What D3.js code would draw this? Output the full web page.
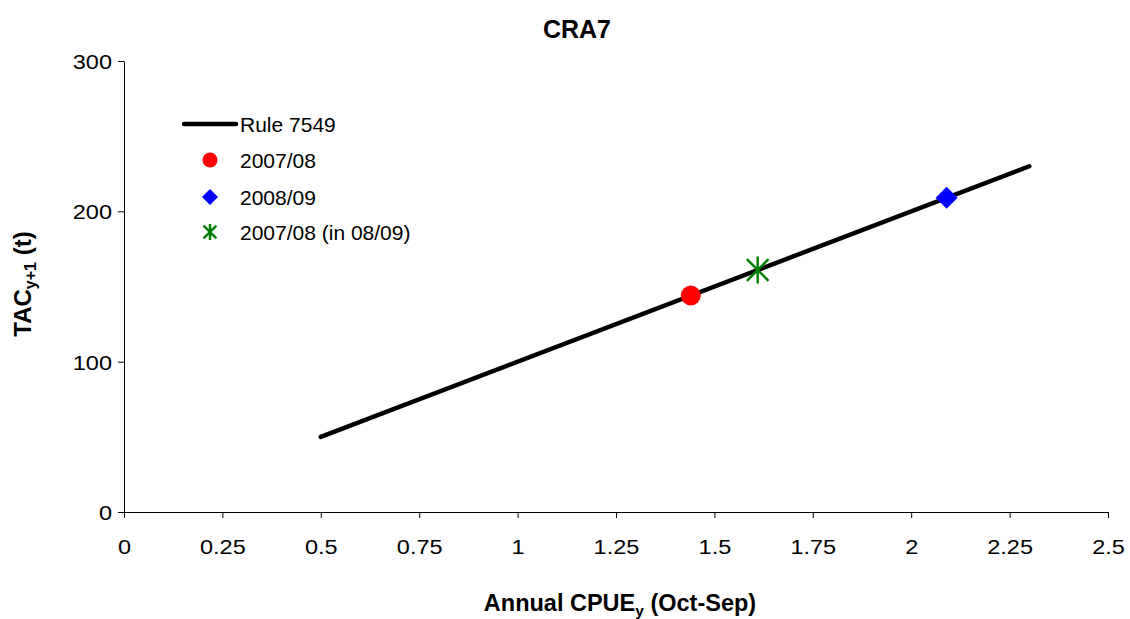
<!DOCTYPE html>
<html><head><meta charset="utf-8">
<script src="https://cdn.jsdelivr.net/npm/d3@7"></script>
<style>body{margin:0;background:#fff;}svg{font-family:Arial,"Liberation Sans",sans-serif;}</style>
</head><body><svg id="c" width="1130" height="619"></svg>
<script>
const ruleX = [0.5, 2.3];
const ruleY = [50, 230];
const pts0708 = [{x:1.44, y:144}];
const pts0809 = [{x:2.09, y:209}];
const pts0708in = [{x:1.61, y:161}];
const xTicks = [0,0.25,0.5,0.75,1,1.25,1.5,1.75,2,2.25,2.5];
const yTicks = [0,100,200,300];
const legendLabels = ["Rule 7549","2007/08","2008/09","2007/08 (in 08/09)"];

const FF = "Arial, 'Liberation Sans', sans-serif";
const svg = d3.select("#c");
const x = d3.scaleLinear().domain([0,2.5]).range([124,1108]);
const y = d3.scaleLinear().domain([0,300]).range([512,61]);

const xa = svg.append("g").attr("transform","translate(0,512)")
  .call(d3.axisBottom(x).tickValues(xTicks).tickSize(6).tickSizeOuter(0).tickFormat(d=>String(d)));
const ya = svg.append("g").attr("transform","translate(124,0)")
  .call(d3.axisLeft(y).tickValues(yTicks).tickSize(6).tickSizeOuter(0));
[xa,ya].forEach(a=>{a.select(".domain").attr("stroke","#000");a.selectAll("line").attr("stroke","#000");
  a.selectAll("text").attr("font-size",21).attr("fill","#000").attr("font-family",FF).attr("x",0).attr("y",0).attr("dy",null);});
xa.selectAll("text").attr("transform","translate(0,42) scale(1.12,1)");
ya.selectAll("text").attr("transform","translate(-12,7.5) scale(1.12,1)");

// rule line
svg.append("path").datum(ruleX.map((v,i)=>[v,ruleY[i]]))
  .attr("d",d3.line().x(d=>x(d[0])).y(d=>y(d[1])))
  .attr("stroke","#000").attr("stroke-width",4.5).attr("fill","none").attr("stroke-linecap","round");

function star(g,cx,cy,r,w){
  const p = g.append("g").attr("transform",`translate(${cx},${cy})`).attr("stroke","#008000").attr("stroke-width",w);
  p.append("line").attr("x1",0).attr("y1",-r).attr("x2",0).attr("y2",r);
  p.append("line").attr("x1",-r*0.8).attr("y1",-r*0.8).attr("x2",r*0.8).attr("y2",r*0.8);
  p.append("line").attr("x1",-r*0.8).attr("y1",r*0.8).attr("x2",r*0.8).attr("y2",-r*0.8);
}
svg.selectAll(".p1").data(pts0708).enter().append("circle")
  .attr("cx",d=>x(d.x)).attr("cy",d=>y(d.y)).attr("r",10).attr("fill","#ff0000");
pts0708in.forEach(d=>star(svg,x(d.x),y(d.y),13.5,2.5));
svg.selectAll(".p2").data(pts0809).enter().append("path")
  .attr("transform",d=>`translate(${x(d.x)},${y(d.y)})`)
  .attr("d","M0,-11L11,0L0,11L-11,0Z").attr("fill","#0000ff");

// legend
const lg = svg.append("g");
const rows = [124,160,197,232];
lg.append("line").attr("x1",184).attr("x2",236).attr("y1",rows[0]).attr("y2",rows[0]).attr("stroke","#000").attr("stroke-width",4.5).attr("stroke-linecap","round");
lg.append("circle").attr("cx",210).attr("cy",rows[1]).attr("r",7.5).attr("fill","#ff0000");
lg.append("path").attr("transform",`translate(210,${rows[2]})`).attr("d","M0,-8L8,0L0,8L-8,0Z").attr("fill","#0000ff");
star(lg,210,rows[3],8,2.5);
legendLabels.forEach((t,i)=>{
  lg.append("text").attr("x",240).attr("y",rows[i]+7.5).attr("font-size",21).attr("font-family",FF).text(t);
});

svg.append("text").attr("x",577).attr("y",38).attr("text-anchor","middle").attr("font-size",25).attr("font-weight","bold").attr("font-family",FF).text("CRA7");

const xl = svg.append("text").attr("x",620).attr("y",611).attr("text-anchor","middle").attr("font-size",23.5).attr("font-weight","bold").attr("font-family",FF);
xl.append("tspan").text("Annual CPUE");
xl.append("tspan").attr("font-size",15.5).attr("dy",5).text("y");
xl.append("tspan").attr("dy",-5).text(" (Oct-Sep)");

const yl = svg.append("text").attr("transform","translate(31,284) rotate(-90)").attr("text-anchor","middle").attr("font-size",24).attr("font-weight","bold").attr("font-family",FF);
yl.append("tspan").text("TAC");
yl.append("tspan").attr("font-size",16).attr("dy",5).text("y+1");
yl.append("tspan").attr("dy",-5).text(" (t)");
</script></body></html>
